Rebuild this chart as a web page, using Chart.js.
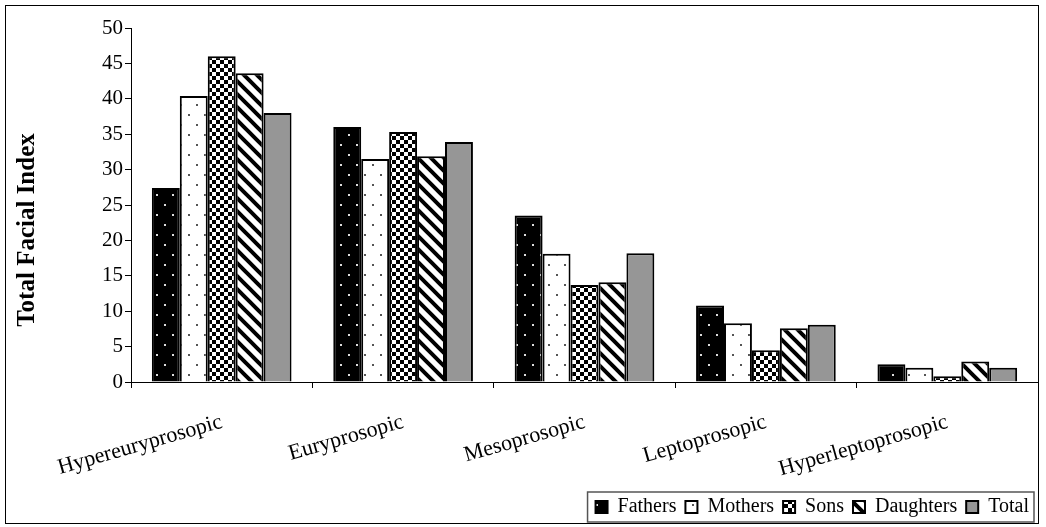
<!DOCTYPE html>
<html>
<head>
<meta charset="utf-8">
<script src="https://cdn.jsdelivr.net/npm/chart.js@4.4.1/dist/chart.umd.min.js"></script>
<style>
  body { margin: 0; background: #fff; }
  #wrap { width: 1046px; height: 527px; }
</style>
</head>
<body>
<div id="wrap"><canvas id="chart" width="1046" height="527"></canvas></div>
<script>
const categories = ["Hypereuryprosopic", "Euryprosopic", "Mesoprosopic", "Leptoprosopic", "Hyperleptoprosopic"];
const fathers   = [27.4, 36.0, 23.5, 10.8, 2.5];
const mothers   = [40.4, 31.5, 18.1, 8.3, 2.0];
const sons      = [46.0, 35.3, 13.7, 4.5, 0.8];
const daughters = [43.6, 31.9, 14.1, 7.6, 2.9];
const total     = [38.0, 33.9, 18.2, 8.1, 2.0];
const yTicks = [0, 5, 10, 15, 20, 25, 30, 35, 40, 45, 50];

const FONT = "'Liberation Serif', 'Times New Roman', serif";

// small tile patterns, like the old excel fills
function tile(w, h, paint) {
  const c = document.createElement("canvas");
  c.width = w; c.height = h;
  const g = c.getContext("2d");
  paint(g);
  return g.createPattern(c, "repeat");
}

const ctx = document.getElementById("chart").getContext("2d");

const dotsOnBlack = tile(16, 20, g => {
  g.fillStyle = "#000"; g.fillRect(0, 0, 16, 20);
  g.fillStyle = "#ddd";
  g.fillRect(4, 4, 2, 2);
  g.fillRect(12, 14, 2, 2);
});
const dotsOnWhite = tile(16, 20, g => {
  g.fillStyle = "#fff"; g.fillRect(0, 0, 16, 20);
  g.fillStyle = "#555";
  g.fillRect(4, 4, 2, 2);
  g.fillRect(12, 14, 2, 2);
});
const checker = tile(8, 8, g => {
  g.fillStyle = "#fff"; g.fillRect(0, 0, 8, 8);
  g.fillStyle = "#000";
  g.fillRect(0, 0, 4, 4);
  g.fillRect(4, 4, 4, 4);
});
const stripes = tile(13, 13, g => {
  g.fillStyle = "#fff"; g.fillRect(0, 0, 13, 13);
  g.strokeStyle = "#000"; g.lineWidth = 4;
  g.beginPath();
  g.moveTo(-3, -3); g.lineTo(16, 16);
  g.moveTo(-16, -3); g.lineTo(3, 16);
  g.moveTo(10, -3); g.lineTo(29, 16);
  g.stroke();
});

const frame = {
  id: "frame",
  beforeDraw(chart) {
    const c = chart.ctx;
    c.save();
    c.fillStyle = "#fff";
    c.fillRect(0, 0, chart.width, chart.height);
    c.restore();
  },
  afterDraw(chart) {
    const c = chart.ctx;
    c.save();
    c.strokeStyle = "#000";
    c.lineWidth = 1;
    c.strokeRect(5.5, 5.5, 1033, 518);
    // box around the legend
    const hb = chart.legend.legendHitBoxes;
    if (hb && hb.length) {
      const l = hb[0].left - 8;
      const last = hb[hb.length - 1];
      const r = last.left + last.width + 5;
      const t = hb[0].top - 5;
      const b = hb[0].top + hb[0].height + 5;
      c.strokeStyle = "#555";
      c.lineWidth = 1.5;
      c.strokeRect(l, t, r - l, b - t);
    }
    c.restore();
  }
};

function ds(label, data, fill) {
  return {
    label, data,
    backgroundColor: fill,
    borderColor: "#000",
    borderWidth: 2,
    borderSkipped: "bottom",
    barPercentage: 1,
    categoryPercentage: 0.77
  };
}

new Chart(ctx, {
  type: "bar",
  data: {
    labels: categories,
    datasets: [
      ds("Fathers", fathers, dotsOnBlack),
      ds("Mothers", mothers, dotsOnWhite),
      ds("Sons", sons, checker),
      ds("Daughters", daughters, stripes),
      ds("Total", total, "#969696")
    ]
  },
  options: {
    responsive: false,
    animation: false,
    layout: { padding: { left: 5, right: 8, top: 28, bottom: 0 } },
    plugins: {
      tooltip: { enabled: false },
      legend: {
        position: "bottom",
        align: "end",
        labels: {
          color: "#000",
          font: { family: FONT, size: 20 },
          boxWidth: 12,
          boxHeight: 12,
          padding: 9
        }
      }
    },
    scales: {
      x: {
        afterFit(axis) { axis.height = 106; },
        grid: { drawOnChartArea: false, tickLength: 6, color: "#000" },
        border: { color: "#000", width: 1 },
        ticks: {
          color: "#000",
          font: { family: FONT, size: 22 },
          maxRotation: 16,
          minRotation: 16,
          padding: 21
        }
      },
      y: {
        min: 0,
        max: 50,
        afterFit(axis) { axis.width = 126; },
        afterBuildTicks(axis) { axis.ticks = yTicks.map(v => ({ value: v })); },
        grid: { drawOnChartArea: false, tickLength: 6, color: "#000" },
        border: { color: "#000", width: 1 },
        ticks: { color: "#000", font: { family: FONT, size: 21 }, padding: 2 },
        title: {
          display: true,
          // trailing spaces nudge the rotated title a bit lower, as in the original
          text: "Total Facial Index        ",
          color: "#000",
          font: { family: FONT, size: 25, weight: "bold" },
          padding: { top: 8, bottom: 0 }
        }
      }
    }
  },
  plugins: [frame]
});
</script>
</body>
</html>
